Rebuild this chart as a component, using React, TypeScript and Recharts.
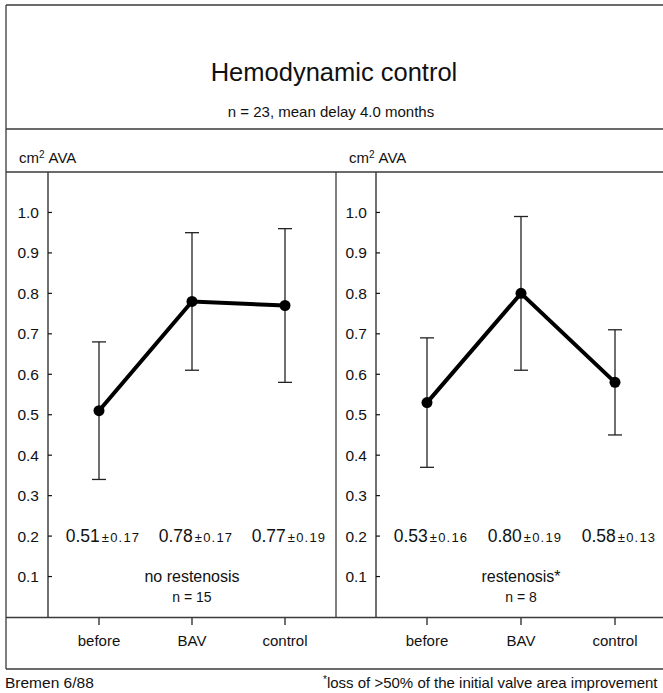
import { LineChart, Line, XAxis, YAxis, ErrorBar, ReferenceDot } from 'recharts';

const categories = ['before', 'BAV', 'control'];
const noRestMean = [0.51, 0.78, 0.77];
const noRestSd = [0.17, 0.17, 0.19];
const restMean = [0.53, 0.8, 0.58];
const restSd = [0.16, 0.19, 0.13];
const yTicks = [0.1, 0.2, 0.3, 0.4, 0.5, 0.6, 0.7, 0.8, 0.9, 1.0];

const FONT = '"Liberation Sans", Arial, sans-serif';
const INK = '#111';
const FRAME = '#3a3a3a';

function YTick({ x, y, payload }: any) {
  return (
    <g>
      <line x1={x} y1={y} x2={x + 4} y2={y} stroke={INK} strokeWidth={1.2} />
      <text x={x - 9} y={y} dy="0.36em" textAnchor="end" fontSize={15.5} fontFamily={FONT} fill={INK}>
        {payload.value.toFixed(1)}
      </text>
    </g>
  );
}

function XTick({ x, y, payload }: any) {
  return (
    <g>
      <line x1={x} y1={y} x2={x} y2={y + 8} stroke={INK} strokeWidth={1.2} />
      <text x={x} y={y + 29} textAnchor="middle" fontSize={15} fontFamily={FONT} fill={INK}>
        {payload.value}
      </text>
    </g>
  );
}

interface PanelProps {
  means: number[];
  sds: number[];
  name: string;
  n: string;
  axisWidth: number;
}

function Panel({ means, sds, name, n, axisWidth }: PanelProps) {
  const data = categories.map((c, i) => ({ cat: c, mean: means[i], sd: sds[i] }));
  return (
    <LineChart width={330} height={497} data={data} margin={{ top: 0, right: 0, bottom: 0, left: 0 }}>
      <XAxis
        dataKey="cat"
        height={52}
        padding={{ left: 51, right: 51 }}
        axisLine={false}
        tickLine={false}
        tickSize={0}
        tickMargin={0}
        tick={<XTick />}
      />
      <YAxis
        width={axisWidth}
        domain={[0, 1.1]}
        ticks={yTicks}
        axisLine={{ stroke: INK, strokeWidth: 1.2 }}
        tickLine={false}
        tickSize={0}
        tickMargin={0}
        tick={<YTick />}
      />
      <Line
        type="linear"
        dataKey="mean"
        stroke="#000"
        strokeWidth={4}
        dot={{ r: 5.5, fill: '#000', stroke: '#000', strokeWidth: 0 }}
        activeDot={false}
        isAnimationActive={false}
      >
        <ErrorBar dataKey="sd" width={7} stroke="#222" strokeWidth={1.3} direction="y" />
      </Line>
      {data.map((d) => (
        <ReferenceDot
          key={d.cat}
          x={d.cat}
          y={0.2}
          r={0}
          shape={(p: any) => (
            <text x={p.cx + 4} y={p.cy} dy="0.36em" textAnchor="middle" fontFamily={FONT} fill={INK}>
              <tspan fontSize={17.5}>{d.mean.toFixed(2)}</tspan>
              <tspan fontSize={13} dx={2} letterSpacing={1.2}>
                ±{d.sd.toFixed(2)}
              </tspan>
            </text>
          )}
        />
      ))}
      <ReferenceDot
        x="BAV"
        y={0.1}
        r={0}
        shape={(p: any) => (
          <text x={p.cx} y={p.cy} dy="0.36em" textAnchor="middle" fontSize={16} fontFamily={FONT} fill={INK}>
            {name}
          </text>
        )}
      />
      <ReferenceDot
        x="BAV"
        y={0.05}
        r={0}
        shape={(p: any) => (
          <text x={p.cx} y={p.cy} dy="0.36em" textAnchor="middle" fontSize={14} fontFamily={FONT} fill={INK}>
            {n}
          </text>
        )}
      />
    </LineChart>
  );
}

export default function App() {
  return (
    <div
      style={{
        position: 'absolute',
        left: 0,
        top: 0,
        width: 663,
        height: 693,
        overflow: 'hidden',
        background: '#fff',
      }}
    >
      <div style={{ position: 'absolute', left: 6, top: 172 }}>
        <Panel means={noRestMean} sds={noRestSd} name="no restenosis" n="n = 15" axisWidth={42} />
      </div>
      <div style={{ position: 'absolute', left: 336, top: 172 }}>
        <Panel means={restMean} sds={restSd} name="restenosis*" n="n = 8" axisWidth={40} />
      </div>
      <svg
        width={663}
        height={693}
        style={{ position: 'absolute', left: 0, top: 0, pointerEvents: 'none' }}
      >
        <g stroke={FRAME} strokeWidth={1.3}>
          <line x1={6} y1={5} x2={663} y2={5} />
          <line x1={6} y1={5} x2={6} y2={669} />
          <line x1={6} y1={129} x2={663} y2={129} />
          <line x1={6} y1={172} x2={663} y2={172} />
          <line x1={6} y1={617.5} x2={663} y2={617.5} />
          <line x1={6} y1={669} x2={663} y2={669} />
          <line x1={336} y1={172} x2={336} y2={617.5} />
        </g>
        <text x={334} y={81} textAnchor="middle" fontSize={25.5} fontFamily={FONT} fill={INK}>
          Hemodynamic control
        </text>
        <text x={331} y={117} textAnchor="middle" fontSize={15} fontFamily={FONT} fill={INK}>
          n = 23, mean delay 4.0 months
        </text>
        <text x={19} y={163} fontSize={15} fontFamily={FONT} fill={INK}>
          cm<tspan fontSize={10} dy={-5}>2</tspan>
          <tspan dy={5} dx={4}>AVA</tspan>
        </text>
        <text x={349} y={163} fontSize={15} fontFamily={FONT} fill={INK}>
          cm<tspan fontSize={10} dy={-5}>2</tspan>
          <tspan dy={5} dx={4}>AVA</tspan>
        </text>
        <text x={5} y={688} fontSize={15.5} fontFamily={FONT} fill={INK}>
          Bremen 6/88
        </text>
        <text x={323} y={688} fontSize={15} fontFamily={FONT} fill={INK}>
          <tspan fontSize={10} dy={-5}>*</tspan>
          <tspan dy={5}>loss of &gt;50% of the initial valve area improvement</tspan>
        </text>
      </svg>
    </div>
  );
}
